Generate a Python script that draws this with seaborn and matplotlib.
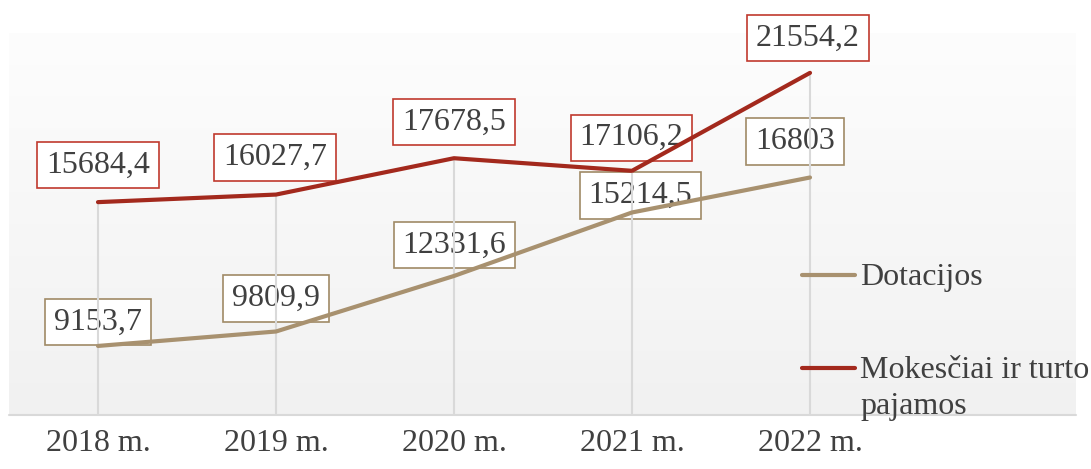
import numpy as np
import pandas as pd
import matplotlib.pyplot as plt
from matplotlib.lines import Line2D
import seaborn as sns

# Data
years = ['2018 m.', '2019 m.', '2020 m.', '2021 m.', '2022 m.']
dotacijos = [9153.7, 9809.9, 12331.6, 15214.5, 16803]
mokesciai = [15684.4, 16027.7, 17678.5, 17106.2, 21554.2]
dotacijos_labels = ['9153,7', '9809,9', '12331,6', '15214,5', '16803']
mokesciai_labels = ['15684,4', '16027,7', '17678,5', '17106,2', '21554,2']
series_names = ['Dotacijos', 'Mokesčiai ir turto\npajamos']

# label box offsets from the point (pixels, dx, dy up)
dot_offsets = [(0, 24), (0, 33), (0, 31), (8, 17), (-15, 36)]
mok_offsets = [(0, 37), (-1, 37), (0, 36), (-1, 33), (-2, 35)]

colors = {'Dotacijos': '#A8916F', 'Mokesčiai': '#A3291D'}
box_edges = {'Dotacijos': '#A08A66', 'Mokesčiai': '#C0392E'}
text_color = '#404040'

df = pd.DataFrame({
    'year': years * 2,
    'value': dotacijos + mokesciai,
    'series': ['Dotacijos'] * 5 + ['Mokesčiai'] * 5,
})

sns.set_theme(style='white')
plt.rcParams['font.family'] = ['Liberation Serif', 'DejaVu Serif']

W, H = 1091, 469
fig = plt.figure(figsize=(W / 100, H / 100), dpi=100)
fig.patch.set_facecolor('white')

# gradient panel behind the chart
bg = fig.add_axes([9 / W, (H - 416) / H, 1067 / W, 383 / H], zorder=-1)
grad = np.linspace(0, 1, 256).reshape(-1, 1)
bg.imshow(grad, aspect='auto', cmap=sns.blend_palette(['#fdfdfd', '#f1f1f1'], as_cmap=True),
          extent=[0, 1, 0, 1], origin='upper')
bg.axis('off')
# category axis line runs under the whole panel
fig.add_artist(Line2D([9 / W, 1076 / W], [1 - 415.4 / H, 1 - 415.4 / H], color='#d9d9d9',
                      linewidth=1.5, transform=fig.transFigure))

ax = fig.add_axes([9 / W, (H - 415.4) / H, 890 / W, 396.4 / H])
ax.set_facecolor('none')

sns.lineplot(data=df, x='year', y='value', hue='series', palette=colors,
             linewidth=3, legend=False, ax=ax, zorder=4, sort=False)
for line in ax.get_lines():
    line.set_solid_capstyle('round')

ax.set_ylim(6000, 24000)
ax.set_xlim(-0.5, 4.5)

# drop lines from the top series down to the axis
tops = np.maximum(dotacijos, mokesciai)
ax.vlines(range(len(years)), 6000, tops, color='#d9d9d9', linewidth=1.5, zorder=3)

def label(vals, texts, offsets, key):
    for i, (v, t, (dx, dy)) in enumerate(zip(vals, texts, offsets)):
        ax.annotate(t, (i, v), xytext=(dx * 0.72, dy * 0.72), textcoords='offset points',
                    ha='center', va='center', fontsize=23, color=text_color, zorder=2,
                    bbox=dict(boxstyle='square,pad=0.27', fc='white',
                              ec=box_edges[key], lw=1.2))

label(dotacijos, dotacijos_labels, dot_offsets, 'Dotacijos')
label(mokesciai, mokesciai_labels, mok_offsets, 'Mokesčiai')

ax.set_xlabel('')
ax.set_ylabel('')
ax.set_yticks([])
ax.tick_params(axis='x', length=0, pad=10, labelsize=23, labelcolor=text_color)
for s in ['left', 'right', 'top', 'bottom']:
    ax.spines[s].set_visible(False)

# legend drawn by hand so the handle sits on the first text line
for name, key, y in [(series_names[0], 'Dotacijos', 275), (series_names[1], 'Mokesčiai', 368)]:
    fig.add_artist(Line2D([802 / W, 855 / W], [1 - y / H, 1 - y / H], color=colors[key],
                          linewidth=3, solid_capstyle='round', transform=fig.transFigure))
    fig.text(860 / W, 1 - (y - 12) / H, name, ha='left', va='top', fontsize=23,
             color=text_color, linespacing=1.3)

fig.savefig('out.png', dpi=100)
